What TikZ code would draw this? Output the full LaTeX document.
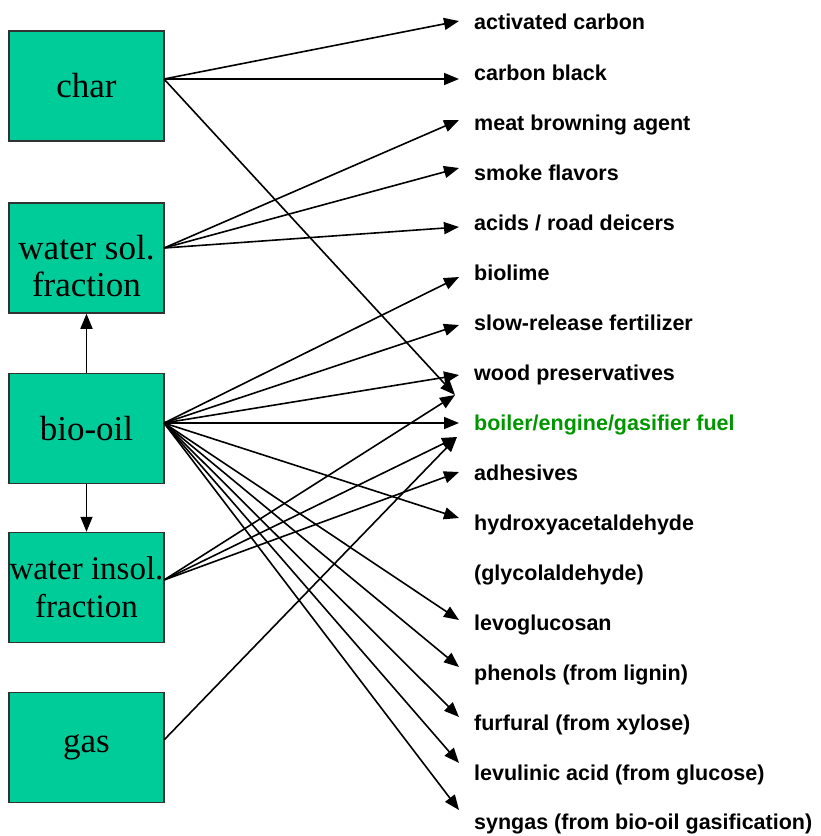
\documentclass[tikz,border=0pt]{standalone}
\usepackage{fontspec}
\setmainfont{Liberation Serif}
\newfontfamily\labelfont{Liberation Sans}
\usetikzlibrary{arrows.meta}
\definecolor{boxgreen}{RGB}{0,204,153}
\definecolor{fuelgreen}{RGB}{0,150,0}
\definecolor{edgegray}{RGB}{50,50,50}
\tikzset{
  fraction/.style={draw=edgegray, line width=1.5pt, fill=boxgreen,
    minimum width=155pt, minimum height=110pt, inner sep=0pt,
    align=center, font=\fontsize{35}{37}\selectfont},
  product/.style={anchor=base west, inner sep=0pt,
    font=\labelfont\bfseries\fontsize{21.5}{24}\selectfont},
  flow/.style={line width=1.6pt, -{Triangle[length=15pt,width=12pt]}},
}
\begin{document}
\begin{tikzpicture}[x=1pt,y=-1pt]
\useasboundingbox (0,0) rectangle (820,836);

% source fractions
\node[fraction] (char) at (86.5,86) {char};
\node[fraction, label={[align=center, yshift=-8pt,
    font=\fontsize{35}{37}\selectfont]center:water sol.\\fraction}]
  (wsol) at (86.5,258) {};
\node[fraction] (bio)  at (86.5,428.5) {bio-oil};
\node[fraction, font=\fontsize{33}{38}\selectfont] (winsol) at (86.5,587.5) {water insol.\\fraction};
\node[fraction] (gas)  at (86.5,747.5) {gas};

% outlet points on the right side of each box
\coordinate (charO)   at (164,79);
\coordinate (wsolO)   at (164,248);
\coordinate (bioO)    at (164,423);
\coordinate (winsolO) at (164,580);
\coordinate (gasO)    at (164,740);

% products
\node[product] (ac)   at (474,29.5)  {activated carbon};
\node[product] (cb)   at (474,80)    {carbon black};
\node[product] (meat) at (474,130)   {meat browning agent};
\node[product] (smk)  at (474,180)   {smoke flavors};
\node[product] (acid) at (474,230)   {acids / road deicers};
\node[product] (lime) at (474,280)   {biolime};
\node[product] (fert) at (474,330)   {slow-release fertilizer};
\node[product] (wood) at (474,380)   {wood preservatives};
\node[product, text=fuelgreen] (fuel) at (474,430) {boiler/engine/gasifier fuel};
\node[product] (adh)  at (474,480)   {adhesives};
\node[product] (hyd)  at (474,530)   {hydroxyacetaldehyde};
\node[product] (gly)  at (474,580)   {(glycolaldehyde)};
\node[product] (levo) at (474,630)   {levoglucosan};
\node[product] (phen) at (474,680)   {phenols (from lignin)};
\node[product] (furf) at (474,730)   {furfural (from xylose)};
\node[product] (levu) at (474,780)   {levulinic acid (from glucose)};
\node[product] (syn)  at (474,829)   {syngas (from bio-oil gasification)};

% arrow tips in front of the product names
\coordinate (tAC)    at (459,21);
\coordinate (tCB)    at (459,79);
\coordinate (tMeat)  at (459,120);
\coordinate (tSmk)   at (459,168);
\coordinate (tAcid)  at (459,227);
\coordinate (tLime)  at (459,277);
\coordinate (tFert)  at (459,325);
\coordinate (tWood)  at (459,375);
\coordinate (tFuelA) at (455,395);
\coordinate (tFuelB) at (459,423);
\coordinate (tFuelC) at (457,437);
\coordinate (tAdh)   at (459,472);
\coordinate (tHyd)   at (459,518);
\coordinate (tLevo)  at (459,620);
\coordinate (tPhen)  at (459,667);
\coordinate (tFurf)  at (459,717);
\coordinate (tLevu)  at (459,763);
\coordinate (tSyn)   at (459,810);

% bio-oil separates into the two fractions
\draw[flow] (bio.north) -- (wsol.south);
\draw[flow] (bio.south) -- (winsol.north);

% char
\draw[flow] (charO) -- (tAC);
\draw[flow] (charO) -- (tCB);
\draw[flow] (charO) -- (tFuelA);

% water soluble fraction
\draw[flow] (wsolO) -- (tMeat);
\draw[flow] (wsolO) -- (tSmk);
\draw[flow] (wsolO) -- (tAcid);

% whole bio-oil
\draw[flow] (bioO) -- (tLime);
\draw[flow] (bioO) -- (tFert);
\draw[flow] (bioO) -- (tWood);
\draw[flow] (bioO) -- (tFuelB);
\draw[flow] (bioO) -- (tHyd);
\draw[flow] (bioO) -- (tLevo);
\draw[flow] (bioO) -- (tPhen);
\draw[flow] (bioO) -- (tFurf);
\draw[flow] (bioO) -- (tLevu);
\draw[flow] (bioO) -- (tSyn);

% water insoluble fraction
\draw[flow] (winsolO) -- (tFuelA);
\draw[flow] (winsolO) -- (tFuelC);
\draw[flow] (winsolO) -- (tAdh);

% gas
\draw[flow] (gasO) -- (tFuelC);
\end{tikzpicture}
\end{document}
